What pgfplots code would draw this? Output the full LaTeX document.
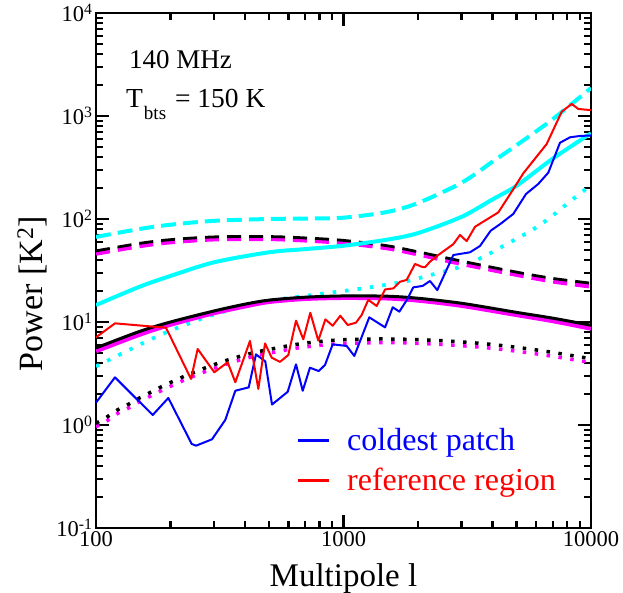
\documentclass[border=0pt]{standalone}
\usepackage{fontspec}
\setmainfont{Liberation Serif}
\usepackage{pgfplots}
\pgfplotsset{compat=1.18}
\usetikzlibrary{calc}
\definecolor{mycyan}{RGB}{0,255,255}
\definecolor{mymag}{RGB}{255,0,255}
\definecolor{myblue}{RGB}{0,0,255}
\definecolor{myred}{RGB}{255,0,0}
\begin{document}
\begin{tikzpicture}
\begin{axis}[
  scale only axis, width=495pt, height=515pt,
  xmode=log, ymode=log,
  xmin=100, xmax=10000, ymin=0.1, ymax=10000,
  axis line style={line width=2.6pt},
  every tick/.style={line width=2.2pt, black},
  major tick length=13pt, minor tick length=7pt,
  tick align=inside,
  xtick={100,1000,10000}, xticklabels={100,1000,10000},
  minor xtick={200,300,400,500,600,700,800,900,2000,3000,4000,5000,6000,7000,8000,9000},
  ytick={0.1,1,10,100,1000,10000},
  yticklabels={10\textsuperscript{-1},10\textsuperscript{0},10\textsuperscript{1},10\textsuperscript{2},10\textsuperscript{3},10\textsuperscript{4}},
  minor ytick={0.2,0.3,0.4,0.5,0.6,0.7,0.8,0.9,2,3,4,5,6,7,8,9,20,30,40,50,60,70,80,90,200,300,400,500,600,700,800,900,2000,3000,4000,5000,6000,7000,8000,9000},
  tick label style={font=\fontsize{22.5}{22.5}\selectfont},
  xlabel={Multipole l},
  ylabel={Power [K\textsuperscript{2}]},
  xlabel style={font=\fontsize{33}{33}\selectfont, at={(rel axis cs:0.5,-0.114)}, anchor=base},
  ylabel style={font=\fontsize{34}{34}\selectfont, at={(rel axis cs:-0.109,0.455)}, anchor=base},
  legend style={at={(rel axis cs:0.404,0.197)}, anchor=north west, draw=none, fill=none,
     font=\fontsize{32}{32}\selectfont, inner sep=0pt, row sep=12pt,
     nodes={inner sep=2pt},
     /tikz/every odd column/.append style={column sep=15pt}},
  legend cell align=left,
  legend image code/.code={\draw[#1, line width=3pt] (0pt,0pt) -- (31pt,0pt);},
  every axis plot/.append style={line join=round},
]
% cyan dotted
\addplot[mycyan, line width=3.8pt, dash pattern=on 3.5pt off 9pt, smooth, forget plot] coordinates {
(100,3.7) (136,5.35) (189,7.8) (283,11.3) (391,14.1) (533,16.4) (710,18) (1131,20.8) (1740,24.5) (2236,28.5) (3040,35) (3814,45) (4620,58) (5669,76) (6722,100) (8226,148) (10000,214)};
% magenta dotted
\addplot[mymag, line width=3.5pt, dash pattern=on 3.5pt off 8.5pt, smooth, forget plot] coordinates {
(100,0.96) (111,1.1) (122,1.29) (136,1.47) (150,1.68) (184,2.16) (225,2.7) (280,3.34) (348,4.0) (435,4.64) (545,5.18) (688,5.7) (968,6.16) (1541,6.3) (2455,6.07) (3846,5.6) (6034,4.9) (9458,4.13) (10000,4.05)};
% black dotted
\addplot[black, line width=3.5pt, dash pattern=on 3.5pt off 8.5pt, smooth, forget plot] coordinates {
(100,1.04) (111,1.2) (122,1.4) (136,1.6) (150,1.83) (184,2.35) (225,2.94) (280,3.63) (348,4.35) (435,5.04) (545,5.63) (688,6.2) (968,6.7) (1541,6.84) (2455,6.6) (3846,6.1) (6034,5.35) (9458,4.5) (10000,4.4)};
% magenta dashed
\addplot[mymag, line width=5pt, dash pattern=on 14pt off 8pt, smooth, forget plot] coordinates {
(100,46.5) (150,55) (200,60) (300,64) (500,64.5) (700,62.5) (1000,59) (1500,52.5) (2000,45.8) (3000,37) (5000,29) (7000,25) (10000,22.3)};
% black dashed
\addplot[black, line width=2.8pt, dash pattern=on 14pt off 8pt, smooth, forget plot] coordinates {
(100,49) (150,58) (200,63) (300,67) (500,67.5) (700,65.5) (1000,62) (1500,55) (2000,48) (3000,39) (5000,30.5) (7000,26.5) (10000,23.8)};
% magenta solid
\addplot[mymag, line width=5pt, smooth, forget plot] coordinates {
(100,5.25) (150,7.6) (200,9.5) (300,12.3) (400,14.3) (500,15.8) (700,16.9) (1000,17.3) (1500,17.1) (2000,16.3) (3000,14.5) (5000,11.8) (7000,10.3) (10000,8.7)};
% black solid
\addplot[black, line width=3pt, smooth, forget plot] coordinates {
(100,5.6) (150,8.1) (200,10.0) (300,12.8) (400,14.9) (500,16.3) (700,17.4) (1000,17.9) (1500,17.8) (2000,17.0) (3000,15.2) (5000,12.4) (7000,10.9) (10000,9.3)};
% cyan dashed
\addplot[mycyan, line width=4pt, dash pattern=on 15pt off 7pt, smooth, forget plot] coordinates {
(100,67) (150,80) (200,88) (300,96) (500,100) (700,101) (1000,103) (1500,117) (2000,143) (3000,225) (4000,360) (5000,520) (7000,930) (10000,1870)};
% cyan solid
\addplot[mycyan, line width=4pt, smooth, forget plot] coordinates {
(100,14.6) (150,22) (200,28) (300,38) (500,47.5) (700,51) (1000,55) (1500,63) (2000,73) (3000,105) (4000,155) (5000,210) (7000,385) (10000,680)};
% blue: coldest patch
\addplot[myblue, line width=2pt] coordinates {
(100,1.65) (119.3,2.9) (169.5,1.25) (196,1.83) (243.6,0.655) (253.6,0.63) (294.2,0.726) (333,1.12) (365.5,2.15) (414,2.32) (443,4.85) (483,4.15) (514.2,1.58) (595,2.1) (642.9,3.88) (684.3,2.15) (732,3.6) (794,3.34) (842,3.83) (904.4,6.07) (1030,5.85) (1106,4.68) (1271,11.1) (1472,8.87) (1581,13.9) (1681,12.6) (1810,16.6) (1914,21.7) (2089,22.4) (2236,25) (2393,20.4) (2778,44.7) (3244,47.5) (3560,54.7) (3933,77) (4290,89) (4853,112) (5464,175) (6125,219) (6722,282) (7494,550) (8226,621) (9027,640) (10000,647)};
\addlegendentry{\textcolor{myblue}{coldest patch}}
% red: reference region
\addplot[myred, line width=2pt] coordinates {
(100,7.1) (119.3,9.7) (191.8,8.8) (242,2.8) (257.5,5.47) (300.6,3.25) (340.5,4.06) (365.5,2.6) (419,6.55) (452.7,2.24) (481.8,6.2) (512.8,4.5) (553.9,4.1) (598.4,4.78) (642.9,10.3) (688,6.79) (734.4,12.3) (791,6.6) (844.6,10.6) (904.4,9.2) (970.7,11.5) (1040,9.35) (1123,9.85) (1184,11.7) (1259,16.4) (1362,14.3) (1472,20.7) (1590,21.2) (1692,24.6) (1800,25.6) (1945,36.6) (2070,34.4) (2135,34) (2236,38.5) (2415,44.7) (2778,57) (2956,70) (3146,61) (3399,84) (4223,116) (4782,184) (5329,278) (6622,535) (7614,1100) (8356,1310) (8887,1170) (10000,1140)};
\addlegendentry{\textcolor{myred}{reference region}}
\node[anchor=base west, font=\fontsize{27}{27}\selectfont, inner sep=0pt] at (rel axis cs:0.0667,0.8926) {140 MHz};
\node[anchor=base west, font=\fontsize{27.5}{27.5}\selectfont, inner sep=0pt] at (rel axis cs:0.0606,0.8169) {T\raisebox{-12.5pt}{\fontsize{19}{19}\selectfont\hspace{1pt}bts}\hspace{2pt} = 150 K};
\end{axis}
\pgfresetboundingbox
\path[use as bounding box] ($(current axis.south west)+(-96pt,-65pt)$) rectangle ($(current axis.north east)+(32pt,13pt)$);
\end{tikzpicture}
\end{document}
